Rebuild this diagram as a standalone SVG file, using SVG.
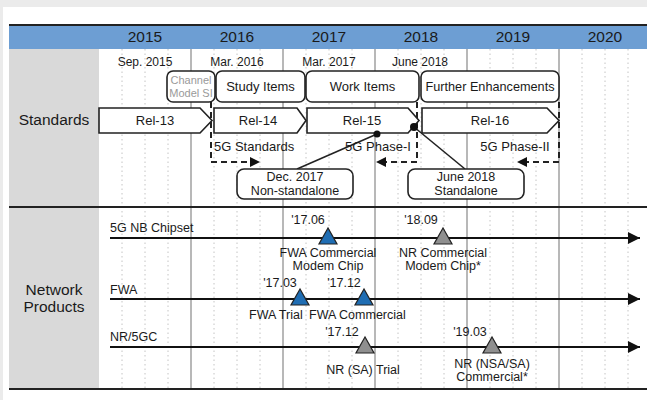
<svg xmlns="http://www.w3.org/2000/svg" width="647" height="400" viewBox="0 0 647 400">
<style>
text{font-family:"Liberation Sans",Arial,sans-serif;fill:#1a1a1a}
.yr{font-size:15.5px;text-anchor:middle}
.sec{font-size:15.5px;text-anchor:middle}
.dt{font-size:12px;text-anchor:middle}
.bx{font-size:13px;text-anchor:middle}
.st{font-size:13px;text-anchor:start}
.lb{font-size:12.5px}
.c{text-anchor:middle}
.grid{stroke:#a0a0a0;stroke-width:1.5}
.dot{stroke:#c4c4c4;stroke-width:1;stroke-dasharray:1.5 3}
.shape{fill:#fff;stroke:#222;stroke-width:1.6}
.dash{fill:none;stroke:#222;stroke-width:2;stroke-dasharray:6 4}
.lead{stroke:#222;stroke-width:1.6}
.tl{stroke:#111;stroke-width:2.2}
.tb{fill:#1f6db3;stroke:#222;stroke-width:1.2}
.tg{fill:#8f8f8f;stroke:#222;stroke-width:1.2}
</style>
<defs>
<marker id="ah" viewBox="0 0 10 10" refX="10" refY="5" markerWidth="5.5" markerHeight="5.5" orient="auto-start-reverse"><path d="M0,0 L10,5 L0,10 Z" fill="#111"/></marker>
</defs>
<rect width="647" height="400" fill="#fff"/>
<rect x="0" y="0" width="647" height="7" fill="#ebebeb"/>
<rect x="0" y="0" width="3" height="400" fill="#ebebeb"/>
<g id="header">
<rect x="9" y="25" width="638" height="24" fill="#6d9ed3"/>
<line x1="9" y1="25" x2="647" y2="25" stroke="#222" stroke-width="2"/>
<text class="yr" x="145" y="42">2015</text>
<text class="yr" x="237" y="42">2016</text>
<text class="yr" x="329" y="42">2017</text>
<text class="yr" x="421" y="42">2018</text>
<text class="yr" x="513" y="42">2019</text>
<text class="yr" x="605" y="42">2020</text>
</g>
<g id="left-column">
<rect x="9" y="49" width="90" height="340" fill="#d9d9d9"/>
<text class="sec" x="54" y="125">Standards</text>
<text class="sec" x="54" y="295">Network</text>
<text class="sec" x="54" y="312">Products</text>
</g>
<g id="grid">
<line class="dot" x1="122" y1="49" x2="122" y2="389"/><line class="dot" x1="145" y1="49" x2="145" y2="389"/><line class="dot" x1="168" y1="49" x2="168" y2="389"/>
<line class="dot" x1="214" y1="49" x2="214" y2="389"/><line class="dot" x1="237" y1="49" x2="237" y2="389"/><line class="dot" x1="260" y1="49" x2="260" y2="389"/>
<line class="dot" x1="306" y1="49" x2="306" y2="389"/><line class="dot" x1="329" y1="49" x2="329" y2="389"/><line class="dot" x1="352" y1="49" x2="352" y2="389"/>
<line class="dot" x1="398" y1="49" x2="398" y2="389"/><line class="dot" x1="421" y1="49" x2="421" y2="389"/><line class="dot" x1="444" y1="49" x2="444" y2="389"/>
<line class="dot" x1="490" y1="49" x2="490" y2="389"/><line class="dot" x1="513" y1="49" x2="513" y2="389"/><line class="dot" x1="536" y1="49" x2="536" y2="389"/>
<line class="dot" x1="582" y1="49" x2="582" y2="389"/><line class="dot" x1="605" y1="49" x2="605" y2="389"/><line class="dot" x1="628" y1="49" x2="628" y2="389"/>
<line class="grid" x1="191" y1="49" x2="191" y2="389"/>
<line class="grid" x1="283" y1="49" x2="283" y2="389"/>
<line class="grid" x1="375" y1="49" x2="375" y2="389"/>
<line class="grid" x1="467" y1="49" x2="467" y2="389"/>
<line class="grid" x1="559" y1="49" x2="559" y2="389"/>
<line x1="9" y1="207" x2="647" y2="207" stroke="#222" stroke-width="2"/>
<line x1="9" y1="389" x2="647" y2="389" stroke="#222" stroke-width="2"/>
</g>
<g id="dates">
<text class="dt" x="145" y="66">Sep. 2015</text>
<text class="dt" x="237" y="66">Mar. 2016</text>
<text class="dt" x="329" y="66">Mar. 2017</text>
<text class="dt" x="420" y="66">June 2018</text>
</g>
<g id="connectors">
<path class="dash" d="M211,102 V162 H252"/>
<path class="dash" d="M417,102 V162 H384"/>
<path class="dash" d="M559,102 V162 H525"/>
<path d="M250,157 L260,162 L250,167 Z" fill="#111"/>
<path d="M386,157 L376,162 L386,167 Z" fill="#111"/>
<path d="M527,157 L517,162 L527,167 Z" fill="#111"/>
<line class="lead" x1="377" y1="134" x2="297" y2="169"/>
<line class="lead" x1="414" y1="127" x2="465" y2="169"/>
</g>
<g id="channel-model-si">
<rect class="shape" x="167" y="71" width="48" height="31" rx="6"/>
<text x="191" y="84" class="c" style="font-size:11px;fill:#9a9a9a">Channel</text>
<text x="191" y="97" class="c" style="font-size:11px;fill:#9a9a9a">Model SI</text>
</g>
<g id="study-items">
<rect class="shape" x="216" y="71" width="89" height="31" rx="6"/>
<text class="bx" x="260.5" y="91">Study Items</text>
</g>
<g id="work-items">
<rect class="shape" x="306" y="71" width="113" height="31" rx="6"/>
<text class="bx" x="362.5" y="91">Work Items</text>
</g>
<g id="further-enhancements">
<rect class="shape" x="421" y="71" width="138" height="31" rx="6"/>
<text class="bx" x="490" y="91" style="font-size:12.7px">Further Enhancements</text>
</g>
<g id="rel-13">
<path class="shape" d="M99,108 H200 L212,120.5 L200,133 H99 Z"/>
<text class="bx" x="155" y="125">Rel-13</text>
</g>
<g id="rel-14">
<path class="shape" d="M214,108 H297 L306,120.5 L297,133 H214 Z"/>
<text class="bx" x="258" y="125">Rel-14</text>
</g>
<g id="rel-15">
<path class="shape" d="M307,108 H408 L419,120.5 L408,133 H307 Z"/>
<text class="bx" x="362" y="125">Rel-15</text>
</g>
<g id="rel-16">
<path class="shape" d="M422,108 H547 L559,120.5 L547,133 H422 Z"/>
<text class="bx" x="490" y="125">Rel-16</text>
</g>
<g id="phase-labels">
<text class="st" x="214" y="151">5G Standards</text>
<text class="bx" x="378" y="151">5G Phase-I</text>
<text class="bx" x="515" y="151">5G Phase-II</text>
<circle cx="377" cy="134" r="3.5" fill="#111"/>
<circle cx="414" cy="127" r="4" fill="#111"/>
</g>
<g id="dec-2017">
<rect class="shape" x="237" y="169" width="116" height="30" rx="7"/>
<text class="dt" x="295" y="181" style="font-size:12.5px">Dec. 2017</text>
<text class="dt" x="295" y="195" style="font-size:12.5px">Non-standalone</text>
</g>
<g id="june-2018">
<rect class="shape" x="408" y="169" width="116" height="30" rx="7"/>
<text class="dt" x="466" y="181" style="font-size:12.5px">June 2018</text>
<text class="dt" x="466" y="195" style="font-size:12.5px">Standalone</text>
</g>
<g id="timelines">
<line class="tl" x1="110" y1="238" x2="640" y2="238" marker-end="url(#ah)"/>
<line class="tl" x1="110" y1="299" x2="640" y2="299" marker-end="url(#ah)"/>
<line class="tl" x1="110" y1="347" x2="640" y2="347" marker-end="url(#ah)"/>
<text class="lb" x="110" y="232">5G NB Chipset</text>
<text class="lb" x="110" y="294">FWA</text>
<text class="lb" x="110" y="341">NR/5GC</text>
</g>
<g id="fwa-commercial-modem-chip">
<polygon class="tb" points="328,228 319,244 337,244"/>
<text class="lb c" x="308" y="224">'17.06</text>
<text class="lb c" x="328" y="257">FWA Commercial</text>
<text class="lb c" x="328" y="270">Modem Chip</text>
</g>
<g id="nr-commercial-modem-chip">
<polygon class="tg" points="443,228 434,244 452,244"/>
<text class="lb c" x="421" y="224">'18.09</text>
<text class="lb c" x="443" y="257">NR Commercial</text>
<text class="lb c" x="443" y="270">Modem Chip*</text>
</g>
<g id="fwa-trial">
<polygon class="tb" points="300,289 291,305 309,305"/>
<text class="lb c" x="280" y="287">'17.03</text>
<text class="lb" x="249" y="319">FWA Trial</text>
</g>
<g id="fwa-commercial">
<polygon class="tb" points="364,289 355,305 373,305"/>
<text class="lb c" x="344" y="287">'17.12</text>
<text class="lb" x="309" y="319">FWA Commercial</text>
</g>
<g id="nr-sa-trial">
<polygon class="tg" points="365,337 356,353 374,353"/>
<text class="lb c" x="342" y="336">'17.12</text>
<text class="lb c" x="363" y="374">NR (SA) Trial</text>
</g>
<g id="nr-nsa-sa-commercial">
<polygon class="tg" points="492,337 483,353 501,353"/>
<text class="lb c" x="470" y="336">'19.03</text>
<text class="lb c" x="492" y="368">NR (NSA/SA)</text>
<text class="lb c" x="492" y="381">Commercial*</text>
</g>
</svg>
